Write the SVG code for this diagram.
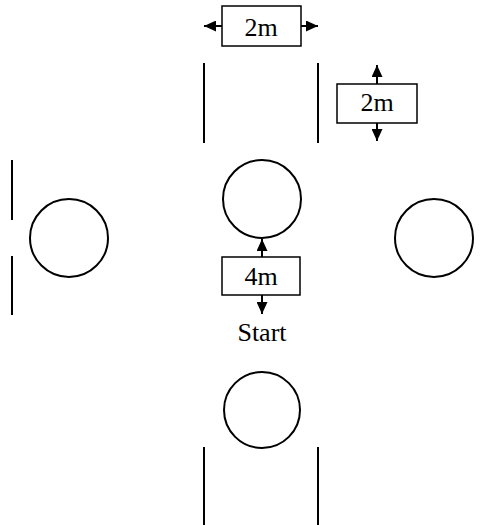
<svg xmlns="http://www.w3.org/2000/svg" width="490" height="525" viewBox="0 0 490 525">
<defs>
<marker id="ah" viewBox="0 0 12 11" refX="12" refY="5.5" markerWidth="12" markerHeight="11" markerUnits="userSpaceOnUse" orient="auto">
<path d="M0,0 L12,5.5 L0,11 Z" fill="#000"/>
</marker>
</defs>
<style>
.ln{stroke:#000;stroke-width:2;fill:none}
.c{stroke:#000;stroke-width:2;fill:#fff}
.b{stroke:#000;stroke-width:1.5;fill:#fff}
.t{font-family:"Liberation Serif","Times New Roman",serif;font-size:26px;fill:#000;text-anchor:middle}
.ar{stroke:#000;stroke-width:2;fill:none;marker-end:url(#ah)}
</style>
<g id="walls">
<line class="ln" x1="204" y1="63" x2="204" y2="143"/>
<line class="ln" x1="318" y1="63" x2="318" y2="143"/>
<line class="ln" x1="12" y1="160" x2="12" y2="220"/>
<line class="ln" x1="12" y1="256" x2="12" y2="315"/>
<line class="ln" x1="204" y1="447" x2="204" y2="525"/>
<line class="ln" x1="318" y1="447" x2="318" y2="525"/>
</g>
<g id="circle-top"><circle class="c" cx="262" cy="199" r="39"/></g>
<g id="circle-left"><circle class="c" cx="69" cy="238" r="39"/></g>
<g id="circle-right"><circle class="c" cx="434" cy="238" r="39"/></g>
<g id="circle-bottom"><circle class="c" cx="262" cy="410" r="38"/></g>
<g id="connectors">
<line class="ar" x1="222" y1="26" x2="204" y2="26"/>
<line class="ar" x1="301" y1="26" x2="318" y2="26"/>
<line class="ar" x1="377" y1="84" x2="377" y2="65"/>
<line class="ar" x1="377" y1="123" x2="377" y2="141"/>
<line class="ar" x1="262" y1="257" x2="262" y2="239"/>
<line class="ar" x1="262" y1="295" x2="262" y2="314"/>
</g>
<g id="label-2m-top">
<rect class="b" x="222" y="6" width="79" height="40"/>
<text class="t" x="261" y="35.5">2m</text>
</g>
<g id="label-2m-right">
<rect class="b" x="337" y="84" width="80" height="39"/>
<text class="t" x="377" y="110.5">2m</text>
</g>
<g id="label-4m">
<rect class="b" x="222" y="257" width="78" height="38"/>
<text class="t" x="261" y="285">4m</text>
</g>
<g id="start"><text class="t" x="262" y="341">Start</text></g>
</svg>
